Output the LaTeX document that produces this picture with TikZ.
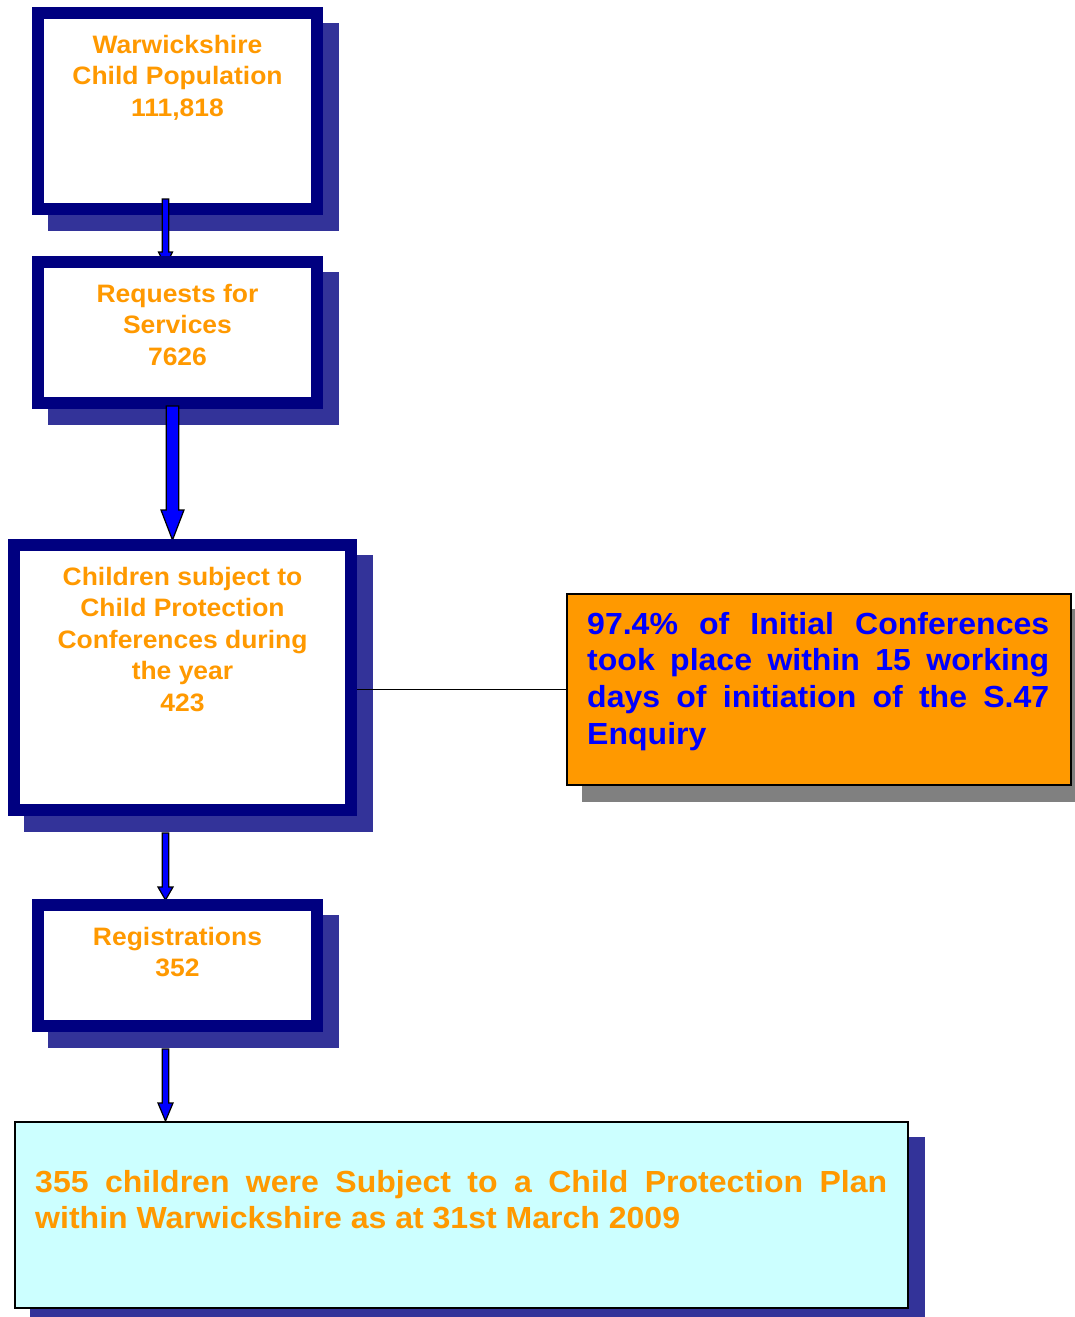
\documentclass[tikz,border=0pt]{standalone}
\usepackage{fontspec}
\setmainfont{Liberation Sans}[FakeStretch=1.05]
\usetikzlibrary{calc}
\definecolor{navyc}{HTML}{000080}
\definecolor{shadowc}{HTML}{333399}
\definecolor{orangec}{HTML}{FF9900}
\definecolor{bluec}{HTML}{0000FF}
\definecolor{cyanc}{HTML}{CCFFFF}
\definecolor{grayc}{HTML}{808080}
\pgfdeclarelayer{bg}
\pgfsetlayers{bg,main}
\newcommand\dropshadow[2]{\begin{pgfonlayer}{bg}\fill[#2] ($(#1.south west)+(16,16)$) rectangle ($(#1.north east)+(16,16)$);\end{pgfonlayer}}
\newcommand\blockarrow[5]{\draw[barrow] ($(#1)+(-#3,0)$) -- ($(#2)+(-#3,-#5)$) -- ($(#2)+(-#4,-#5)$) -- (#2) -- ($(#2)+(#4,-#5)$) -- ($(#2)+(#3,-#5)$) -- ($(#1)+(#3,0)$) -- cycle;}
\begin{document}
\begin{tikzpicture}[x=1pt,y=-1pt,
  frame/.style={draw=navyc, line width=12pt, fill=white, rectangle, inner sep=0pt},
  plainbox/.style={draw=black, line width=2pt, rectangle, inner sep=0pt},
  boxtext/.style={text=orangec, font=\fontsize{25.2}{31.5}\selectfont\bfseries, inner sep=0pt, anchor=base},
  bigtext/.style={font=\fontsize{30.5}{36.8}\selectfont\bfseries, inner sep=0pt, anchor=base west},
  barrow/.style={fill=bluec, draw=black, line width=1.2pt, line join=miter},
  link/.style={draw=black, line width=1.3pt}]
\useasboundingbox (0,0) rectangle (1074,1317);
\clip (0,0) rectangle (1074,1317);

% Box 1
\node[frame, minimum width=279pt, minimum height=196pt] (b1) at (177.5,111) {};
\dropshadow{b1}{shadowc}
\node[boxtext] (t1) at ($(b1.north)+(0,46)$) {\begin{tabular}[t]{@{}c@{}}Warwickshire\\Child Population\\111,818\end{tabular}};
\coordinate (a1s) at (165.5,199);
\coordinate (a1e) at (165.5,266);
\blockarrow{a1s}{a1e}{3.2}{7}{14}

% Box 2
\node[frame, minimum width=279pt, minimum height=141pt] (b2) at (177.5,332.5) {};
\dropshadow{b2}{shadowc}
\node[boxtext] (t2) at ($(b2.north)+(0,46)$) {\begin{tabular}[t]{@{}c@{}}Requests for\\Services\\7626\end{tabular}};
\coordinate (a2s) at (172.5,406);
\coordinate (a2e) at (172.5,540);
\blockarrow{a2s}{a2e}{6.2}{11.5}{30}

% Box 3
\node[frame, minimum width=337pt, minimum height=265pt] (b3) at (182.5,677.5) {};
\dropshadow{b3}{shadowc}
\node[boxtext] (t3) at ($(b3.north)+(0,46)$) {\begin{tabular}[t]{@{}c@{}}Children subject to\\Child Protection\\Conferences during\\the year\\423\end{tabular}};
\coordinate (a3s) at (165.5,833);
\coordinate (a3e) at (165.5,900);
\blockarrow{a3s}{a3e}{3.2}{7.5}{13}

% Box 4
\node[frame, minimum width=279pt, minimum height=121pt] (b4) at (177.5,965.5) {};
\dropshadow{b4}{shadowc}
\node[boxtext] (t4) at ($(b4.north)+(0,46)$) {\begin{tabular}[t]{@{}c@{}}Registrations\\352\end{tabular}};
\coordinate (a4s) at (165.5,1049);
\coordinate (a4e) at (165.5,1121);
\blockarrow{a4s}{a4e}{3.2}{7.5}{18}

% Box 5
\node[plainbox, fill=cyanc, minimum width=893pt, minimum height=186pt] (b5) at (461.5,1215) {};
\dropshadow{b5}{shadowc}
\node[bigtext, text=orangec] (t5) at ($(b5.north west)+(21,71)$) {\parbox[t]{852pt}{\hyphenpenalty=10000 355 children were Subject to a Child Protection Plan\linebreak within Warwickshire as at 31st March 2009}};

% Orange box
\node[plainbox, fill=orangec, minimum width=504pt, minimum height=191pt] (ob) at (819,689.5) {};
\dropshadow{ob}{grayc}
\node[bigtext, text=bluec] (t6) at ($(ob.north west)+(21,41)$) {\parbox[t]{462pt}{\hyphenpenalty=10000 97.4\% of Initial Conferences\linebreak took place within 15 working\linebreak days of initiation of the S.47\linebreak Enquiry}};

% connector
\draw[link] (b3.east |- ob.west) -- (ob.west);
\end{tikzpicture}
\end{document}
